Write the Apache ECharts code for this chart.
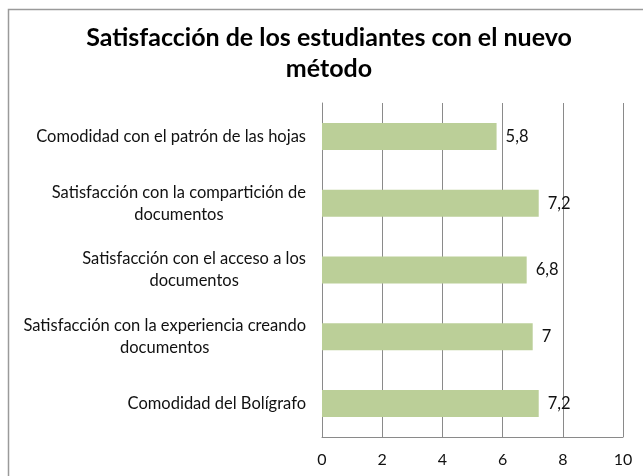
<!DOCTYPE html>
<html>
<head>
<meta charset="utf-8">
<script src="https://cdn.jsdelivr.net/npm/echarts@6/dist/echarts.min.js"></script>
<style>
  html, body { margin: 0; padding: 0; background: #fff; }
  #chart { width: 643px; height: 476px; }
</style>
</head>
<body>
<div id="chart"></div>
<script>
var titleText = 'Satisfacción de los estudiantes con el nuevo\nmétodo';
// top to bottom
var categories = [
    'Comodidad con el patrón de las hojas',
    'Satisfacción con la compartición de\ndocumentos',
    'Satisfacción con el acceso a los\ndocumentos',
    'Satisfacción con la experiencia creando\ndocumentos',
    'Comodidad del Bolígrafo'
];
var values = [5.8, 7.2, 6.8, 7, 7.2];
var xTicks = { min: 0, max: 10, interval: 2 };

var dom = document.getElementById('chart');
var chart = echarts.init(dom);
var font = 'Lato';
var gray = '#8a8a8a';

var option = {
    animation: false,
    backgroundColor: '#fff',
    graphic: [{
        type: 'rect',
        shape: { x: 8.5, y: 9.5, width: 700, height: 600 },
        style: { fill: 'none', stroke: '#9a9a9a', lineWidth: 1.5 },
        silent: true
    }],
    title: {
        text: titleText,
        left: 324,
        textAlign: 'center',
        top: 17,
        textStyle: {
            fontFamily: font,
            fontWeight: 'bold',
            fontSize: 25,
            lineHeight: 31,
            color: '#000'
        }
    },
    grid: { left: 322, right: 20, top: 103, bottom: 39 },
    xAxis: {
        type: 'value',
        min: xTicks.min,
        max: xTicks.max,
        interval: xTicks.interval,
        axisLine: { show: true, lineStyle: { color: gray } },
        axisTick: { show: false },
        splitLine: { show: true, lineStyle: { color: gray, width: 1 } },
        axisLabel: {
            margin: 15,
            fontFamily: font,
            fontSize: 16,
            color: '#111'
        }
    },
    yAxis: {
        type: 'category',
        inverse: true,
        data: categories,
        axisLine: { show: true, lineStyle: { color: gray } },
        axisTick: { show: false },
        axisLabel: {
            margin: 16,
            formatter: function (v) {
                return v.split('\n').map(function (s) { return '{a|' + s + '}'; }).join('\n');
            },
            rich: {
                a: {
                    align: 'center',
                    fontFamily: font,
                    fontSize: 16.5,
                    lineHeight: 22,
                    color: '#111'
                }
            }
        }
    },
    series: [{
        type: 'bar',
        data: values,
        barWidth: 27,
        itemStyle: { color: '#bbcf98' },
        label: {
            show: true,
            position: 'right',
            distance: 9,
            fontFamily: font,
            fontSize: 16.5,
            color: '#111',
            formatter: function (p) {
                return String(p.value).replace('.', ',');
            }
        }
    }]
};

if (option && typeof option === 'object') {
    chart.setOption(option, true);
}
</script>
</body>
</html>
